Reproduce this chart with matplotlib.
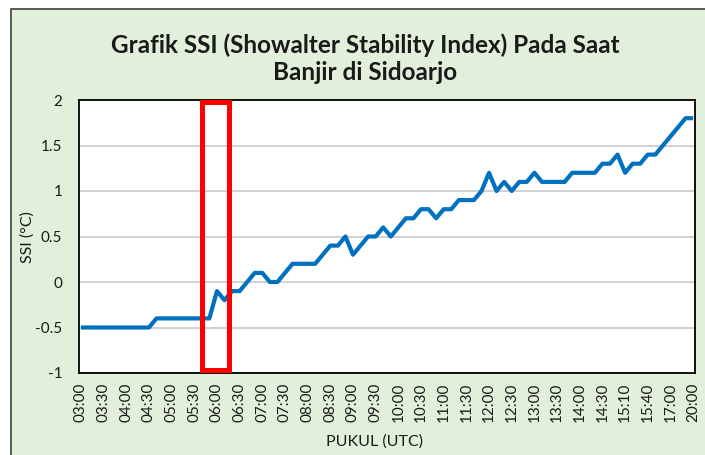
import numpy as np
import matplotlib
matplotlib.use('Agg')
import matplotlib.pyplot as plt
from matplotlib.patches import Rectangle

plt.rcParams['font.family'] = ['Lato', 'DejaVu Sans']

# nilai SSI tiap ~10 menit
ssi = [-0.5, -0.5, -0.5, -0.5, -0.5, -0.5, -0.5, -0.5, -0.5, -0.5,
       -0.4, -0.4, -0.4, -0.4, -0.4, -0.4, -0.4, -0.4,
       -0.1, -0.2, -0.1, -0.1, 0.0, 0.1, 0.1, 0.0, 0.0, 0.1,
       0.2, 0.2, 0.2, 0.2, 0.3, 0.4, 0.4, 0.5, 0.3, 0.4, 0.5, 0.5,
       0.6, 0.5, 0.6, 0.7, 0.7, 0.8, 0.8, 0.7, 0.8, 0.8,
       0.9, 0.9, 0.9, 1.0, 1.2, 1.0, 1.1, 1.0, 1.1, 1.1,
       1.2, 1.1, 1.1, 1.1, 1.1, 1.2, 1.2, 1.2, 1.2, 1.3,
       1.3, 1.4, 1.2, 1.3, 1.3, 1.4, 1.4, 1.5, 1.6, 1.7, 1.8, 1.8]

# label jam (setiap 3 titik data)
tick_labels = ['03:00', '03:30', '04:00', '04:30', '05:00', '05:30', '06:00',
               '06:30', '07:00', '07:30', '08:00', '08:30', '09:00', '09:30',
               '10:00', '10:30', '11:00', '11:30', '12:00', '12:30', '13:00',
               '13:30', '14:00', '14:30', '15:10', '15:40', '17:00', '20:00']

y_ticks = [-1, -0.5, 0, 0.5, 1, 1.5, 2]

green = '#E2EFDA'
txt = '#1a1a1a'

fig = plt.figure(figsize=(7.05, 4.55), dpi=100)
fig.patch.set_facecolor('white')
# latar chart hijau dengan bingkai
fig.patches.append(Rectangle((11 / 705, -0.05), 1.1, 1 - 9 / 455 + 0.05,
                             transform=fig.transFigure, facecolor=green,
                             edgecolor='#404040', lw=1.2, zorder=-10))

ax = fig.add_axes([79 / 705, 1 - 373 / 455, 616 / 705, 273 / 455])
ax.set_facecolor('white')

x = np.arange(len(ssi))
ax.plot(x, ssi, color='#0070C0', lw=3, solid_joinstyle='round',
        solid_capstyle='butt', zorder=3)

ax.set_xlim(-0.25, len(ssi) - 0.75)
ax.set_ylim(-1, 2)
ax.set_yticks(y_ticks)
ax.set_yticklabels(['%g' % v for v in y_ticks])
ax.set_xticks(x[::3])
ax.set_xticklabels(tick_labels, rotation=90)
ax.tick_params(axis='x', length=0, pad=7, labelsize=11, colors=txt)
ax.tick_params(axis='y', length=0, pad=12, labelsize=11, colors=txt)

ax.grid(True, axis='y', color='#c8c8c8', lw=1.2, zorder=0)
for s in ax.spines.values():
    s.set_color('black')
    s.set_linewidth(1.3)

# kotak merah penanda
ax.add_patch(Rectangle((16.0, -0.97), 3.6, 2.95, fill=False,
                       edgecolor='#FF0000', lw=3.6, zorder=5, clip_on=False))

fig.text(365 / 705, 1 - 45 / 455, 'Grafik SSI (Showalter Stability Index) Pada Saat',
         ha='center', va='center', fontsize=17.5, fontweight='bold', color=txt)
fig.text(365 / 705, 1 - 73 / 455, 'Banjir di Sidoarjo',
         ha='center', va='center', fontsize=17.5, fontweight='bold', color=txt)
fig.text(28 / 705, 1 - 237 / 455, 'SSI (°C)', rotation=90,
         ha='center', va='center', fontsize=11.5, color=txt)
fig.text(374 / 705, 1 - 442 / 455, 'PUKUL (UTC)',
         ha='center', va='center', fontsize=11.5, color=txt)

fig.savefig('out.png', dpi=100, facecolor=fig.get_facecolor())
